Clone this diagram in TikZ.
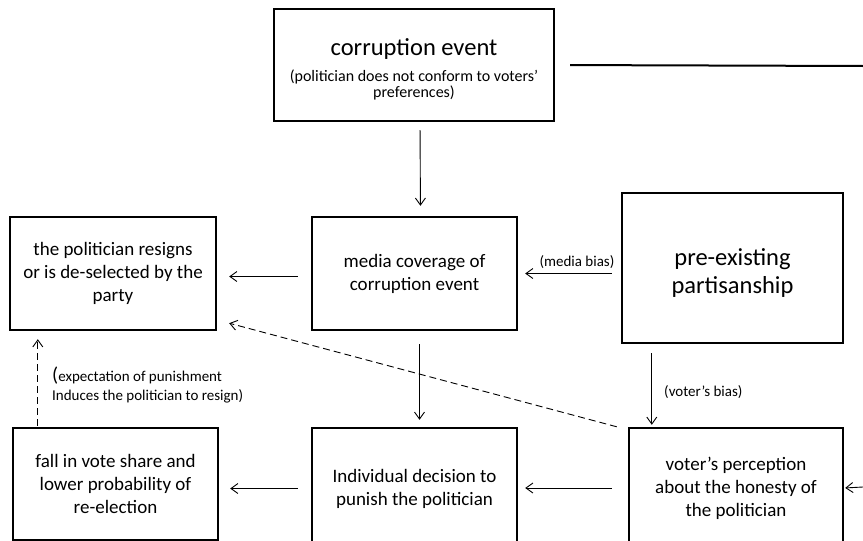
\documentclass[tikz,border=0pt]{standalone}
\usepackage{fontspec}
\setmainfont{Carlito}
\usetikzlibrary{arrows.meta}

\begin{document}
\begin{tikzpicture}[x=1pt,y=-1pt,
  caixa/.style={draw, line width=2.4pt, align=center, inner sep=0pt,
    font=\fontsize{19}{23}\selectfont},
  seta/.style={-{Straight Barb[length=7pt,width=10pt]}, line width=0.9pt},
  tracejado/.style={dash pattern=on 7pt off 4pt},
  rotulo/.style={inner sep=0pt, font=\fontsize{15}{19}\selectfont}]
\useasboundingbox (0,0) rectangle (863,541);
\clip (0,0) rectangle (863,541);
%caixas
  \node[caixa, minimum width=280pt, minimum height=112pt] (corr) at (414,65)
    {\fontsize{24.5}{26}\selectfont\rule{0pt}{28pt}corruption event\\[9pt]
     {\fontsize{16}{16}\selectfont\begin{tabular}{@{}c@{}}(politician does not conform to voters’\\preferences)\end{tabular}}};
  \node[caixa, minimum width=206pt, minimum height=113pt] (resign) at (113,273.5)
    {the politician resigns\\or is de-selected by the\\party};
  \node[caixa, minimum width=205pt, minimum height=113pt] (media) at (414.5,273.5)
    {media coverage of\\corruption event};
  \node[caixa, minimum width=221pt, minimum height=150pt,
    font=\fontsize{24.5}{28}\selectfont] (partisan) at (732.5,268)
    {\rule{0pt}{27pt}pre-existing\\partisanship};
  \node[caixa, minimum width=205pt, minimum height=112pt] (fall) at (115.5,484)
    {fall in vote share and\\lower probability of\\re-election};
  \node[caixa, minimum width=205pt, minimum height=121pt] (decision) at (414.5,488.5)
    {Individual decision to\\punish the politician};
  \node[caixa, minimum width=214pt, minimum height=120pt] (voter) at (736,488)
    {voter’s perception\\about the honesty of\\the politician};

%setas
  \coordinate (borda) at (863,66);
  \coordinate (entrada) at (863,487);
  \draw[line width=2pt, shorten <=15pt] (corr.east) -- (borda);
  \draw[seta, shorten <=8pt, shorten >=10pt] ([xshift=6pt]corr.south) -- ([xshift=6pt]media.north);
  \draw[seta, shorten <=13pt, shorten >=12pt] ([yshift=-3pt]media.west) -- ([yshift=-3pt]resign.east);
  \draw[seta, shorten <=9pt, shorten >=7pt] (partisan.west |- media.east) -- (media.east);
  \draw[seta, shorten <=13pt, shorten >=7pt] ([xshift=5pt]media.south) -- ([xshift=5pt]decision.north);
  \draw[seta, shorten <=9pt, shorten >=2pt] ([xshift=24pt]voter.north west |- partisan.south) -- ([xshift=24pt]voter.north west);
  \draw[seta, shorten <=16pt, shorten >=7pt] (voter.west) -- (decision.east |- voter.west);
  \draw[seta, shorten <=13pt, shorten >=11pt] (decision.west) -- (fall.east |- decision.west);
  \draw[seta, tracejado, shorten <=1pt, shorten >=8pt] ([xshift=26pt]fall.north west) -- ([xshift=26pt]fall.north west |- resign.south);
  \draw[seta, tracejado] ([xshift=-11pt]voter.north west) -- ([xshift=12pt,yshift=8pt]resign.south east);
  \draw[seta, shorten >=1pt] (entrada) -- (voter.east);

%rotulos
  \node[rotulo] (mbias) at (577,262) {(media bias)};
  \node[rotulo, anchor=base west] (vbias) at (664,396) {(voter’s bias)};
  \node[rotulo, anchor=north west, align=left] (expect) at (52,367)
    {{\fontsize{20}{19}\selectfont(}expectation of punishment\\Induces the politician to resign)};
\end{tikzpicture}
\end{document}
